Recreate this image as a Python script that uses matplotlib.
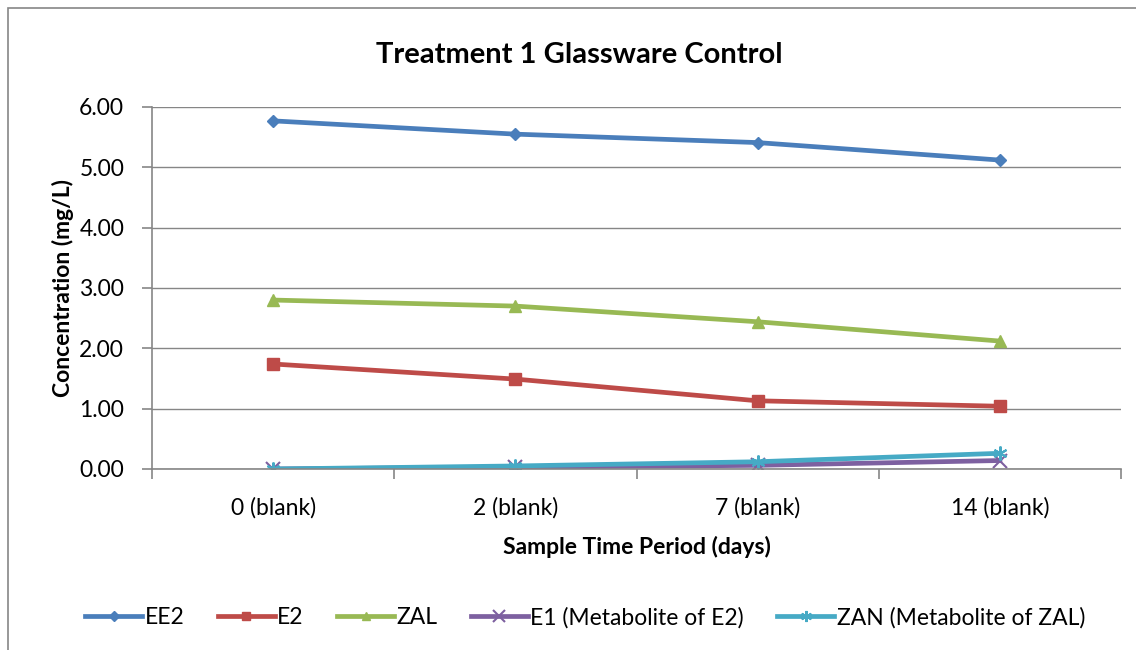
import matplotlib
matplotlib.use("Agg")
import matplotlib.pyplot as plt
from matplotlib.patches import Rectangle

plt.rcParams['font.family'] = ['Lato', 'DejaVu Sans']

# data
periods = ["0 (blank)", "2 (blank)", "7 (blank)", "14 (blank)"]
ee2 = [5.77, 5.55, 5.41, 5.12]
e2 = [1.74, 1.49, 1.13, 1.04]
zal = [2.80, 2.70, 2.44, 2.12]
e1 = [0.00, 0.03, 0.06, 0.14]
zan = [0.00, 0.05, 0.12, 0.26]

fig = plt.figure(figsize=(11.36, 6.5), dpi=100)
ax = fig.add_axes([0.1338, 0.2785, 0.853, 0.5569])

# outer chart border
fig.patches.append(Rectangle((0.007, -0.01), 1.0, 0.998, transform=fig.transFigure,
                             fill=False, edgecolor='#868686', linewidth=1.2))

x = list(range(len(periods)))
lw = 3.4
fs = 16.5
ax.plot(x, ee2, color='#4A7EBB', lw=lw, marker='D', ms=6, label='EE2')
ax.plot(x, e2, color='#BE4B48', lw=lw, marker='s', ms=8, label='E2')
ax.plot(x, zal, color='#98B954', lw=lw, marker='^', ms=8, label='ZAL')
ax.plot(x, e1, color='#7D60A0', lw=lw, marker='x', ms=10, mew=1.5, label='E1 (Metabolite of E2)')
ax.plot(x, zan, color='#46AAC5', lw=lw, marker=(6, 2, 0), ms=10, mew=1.5,
        label='ZAN (Metabolite of ZAL)')

ax.set_xlim(-0.5, 3.5)
ax.set_ylim(0, 6)
ax.set_yticks([0, 1, 2, 3, 4, 5, 6])
ax.set_yticklabels(["%.2f" % v for v in range(7)])
ax.set_xticks(x)
ax.set_xticklabels(periods)
ax.set_xticks([-0.5, 0.5, 1.5, 2.5, 3.5], minor=True)
ax.tick_params(axis='x', which='major', length=0, pad=20, labelsize=fs)
ax.tick_params(axis='x', which='minor', length=7, color='#868686', width=1.2)
ax.tick_params(axis='y', length=7, color='#868686', width=1.2, pad=13, labelsize=fs)

ax.grid(axis='y', color='#868686', lw=1.0)
ax.set_axisbelow(True)
for s in ['top', 'right']:
    ax.spines[s].set_visible(False)
ax.spines['left'].set_color('#868686')
ax.spines['bottom'].set_color('#868686')
ax.spines['left'].set_linewidth(1.2)
ax.spines['bottom'].set_linewidth(1.2)

fig.text(0.51, 1 - 55 / 650, "Treatment 1 Glassware Control", fontsize=21, fontweight='bold',
         ha='center', va='center')
ax.set_xlabel("Sample Time Period (days)", fontsize=fs, fontweight='bold', labelpad=13)
ax.set_ylabel("Concentration (mg/L)", fontsize=fs, fontweight='bold', labelpad=4)

fig.legend(loc='center', bbox_to_anchor=(0.515, 0.05), ncol=5, frameon=False,
           fontsize=fs, handlelength=2.5, handletextpad=0.1, columnspacing=1.45,
           markerscale=0.8)

fig.savefig("out.png", dpi=100)
